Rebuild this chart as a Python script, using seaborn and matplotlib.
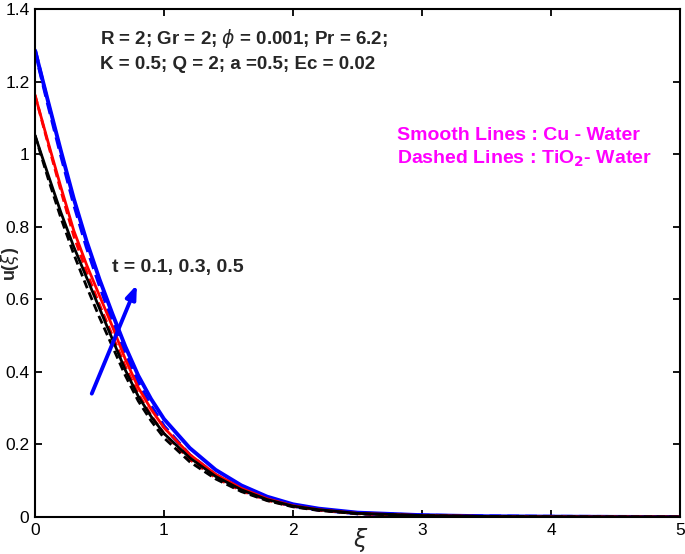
import numpy as np
import pandas as pd
import matplotlib
matplotlib.use('Agg')
import matplotlib.pyplot as plt
import seaborn as sns

xi = [0.0, 0.1, 0.2, 0.3, 0.4, 0.5, 0.6, 0.7, 0.8, 0.9, 1.0,
      1.2, 1.4, 1.6, 1.8, 2.0, 2.2, 2.5, 3.0, 3.5, 4.0, 4.5, 5.0]

# Cu - water (smooth lines), t = 0.1, 0.3, 0.5
cu_t01 = [1.052, 0.945, 0.840, 0.745, 0.660, 0.575, 0.490, 0.405, 0.333, 0.277, 0.230,
          0.163, 0.112, 0.075, 0.048, 0.030, 0.020, 0.010, 0.004, 0.0015, 0.0006, 0.0002, 0.0]
cu_t03 = [1.163, 1.035, 0.910, 0.790, 0.695, 0.610, 0.525, 0.435, 0.357, 0.297, 0.246,
          0.172, 0.118, 0.079, 0.050, 0.031, 0.020, 0.010, 0.004, 0.0015, 0.0006, 0.0002, 0.0]
cu_t05 = [1.286, 1.147, 1.010, 0.878, 0.760, 0.655, 0.560, 0.470, 0.390, 0.325, 0.270,
          0.190, 0.130, 0.087, 0.056, 0.035, 0.023, 0.012, 0.005, 0.002, 0.001, 0.0003, 0.0]

# TiO2 - water (dashed lines)
ti_t01 = [1.052, 0.935, 0.825, 0.725, 0.635, 0.550, 0.470, 0.390, 0.320, 0.265, 0.218,
          0.152, 0.105, 0.070, 0.045, 0.028, 0.018, 0.009, 0.0035, 0.0013, 0.0005, 0.0002, 0.0]
ti_t03 = [1.163, 1.030, 0.900, 0.775, 0.675, 0.585, 0.500, 0.415, 0.340, 0.280, 0.230,
          0.158, 0.108, 0.072, 0.046, 0.029, 0.019, 0.009, 0.0035, 0.0013, 0.0005, 0.0002, 0.0]
ti_t05 = [1.286, 1.140, 1.000, 0.865, 0.745, 0.640, 0.540, 0.450, 0.370, 0.305, 0.250,
          0.170, 0.115, 0.076, 0.049, 0.031, 0.020, 0.010, 0.004, 0.0015, 0.0006, 0.0002, 0.0]

sns.set_style("ticks")
plt.rcParams['font.family'] = ['Liberation Sans', 'DejaVu Sans']
plt.rcParams['mathtext.fontset'] = 'dejavusans'

W, H = 685, 554
fig = plt.figure(figsize=(W / 100, H / 100), dpi=100)
ax = fig.add_axes([35 / W, 1 - 517 / H, 645 / W, 508 / H])


def ftext(x, y, s, **kw):
    # place text at reference pixel position (from top-left)
    return fig.text(x / W, 1 - y / H, s, **kw)


curves = [
    (cu_t05, 'blue', '-', 2.8),
    (ti_t05, 'blue', '--', 2.8),
    (cu_t03, 'red', '-', 2.0),
    (ti_t03, 'red', '--', 2.0),
    (cu_t01, 'black', '-', 2.0),
    (ti_t01, 'black', '--', 2.0),
]
for vals, col, ls, lw in curves:
    sns.lineplot(x=xi, y=vals, color=col, linewidth=lw, ax=ax)
    if ls == '--':
        ax.lines[-1].set_dashes((3.0, 1.6))

ax.set_xlim(0, 5)
ax.set_ylim(0, 1.4)
ax.set_xticks([0, 1, 2, 3, 4, 5])
ax.set_yticks([0, 0.2, 0.4, 0.6, 0.8, 1.0, 1.2, 1.4])
ax.set_yticklabels(['0', '0.2', '0.4', '0.6', '0.8', '1', '1.2', '1.4'])
ax.tick_params(direction='in', length=5, width=1.3, labelsize=12.5,
               top=True, right=True, colors='black', pad=4)
for s in ax.spines.values():
    s.set_visible(True)
    s.set_linewidth(1.5)
    s.set_color('black')

ax.set_xlabel('')
ax.set_ylabel('')
ftext(361, 540, r'$\xi$', fontsize=17, ha='center', va='center')
ftext(10, 264, r'u($\xi$)', fontsize=13, fontweight='bold', rotation=90,
      ha='center', va='center')

ftext(100, 44, r'R = 2; Gr = 2; $\phi$ = 0.001; Pr = 6.2;',
      fontsize=13.5, fontweight='bold', va='baseline')
ftext(100, 69, 'K = 0.5; Q = 2; a =0.5; Ec = 0.02',
      fontsize=13.5, fontweight='bold', va='baseline')

ftext(397, 140, 'Smooth Lines : Cu - Water',
      fontsize=14, fontweight='bold', color='#ff00ff', va='baseline')
ftext(397, 164, r'Dashed Lines : TiO$_\mathbf{2}$- Water',
      fontsize=14, fontweight='bold', color='#ff00ff', va='baseline')

ftext(112, 272, 't = 0.1, 0.3, 0.5', fontsize=14, fontweight='bold', va='baseline')
ax.annotate('', xy=(0.79, 0.64), xytext=(0.44, 0.34),
            arrowprops=dict(arrowstyle='-|>,head_length=0.8,head_width=0.3',
                            color='blue', lw=2.8, shrinkA=0, shrinkB=0))

fig.savefig('out.png', dpi=100)
